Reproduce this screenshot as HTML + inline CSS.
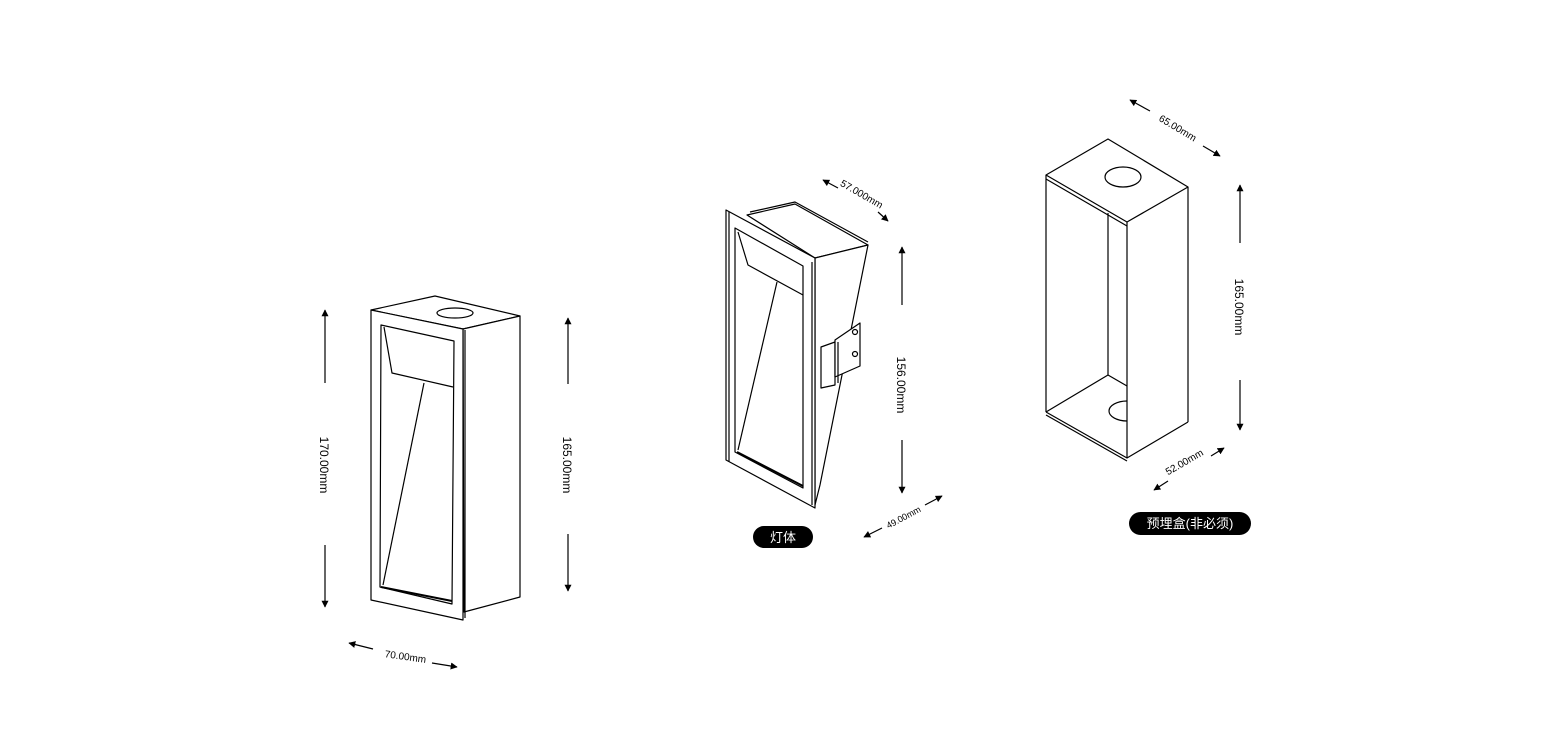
<!DOCTYPE html>
<html><head><meta charset="utf-8"><style>
html,body{margin:0;padding:0;background:#fff;}
svg{display:block;}
text{font-family:"Liberation Sans","Noto Sans CJK SC",sans-serif;fill:#000;}
</style></head><body>
<svg width="1560" height="753" viewBox="0 0 1560 753" xmlns="http://www.w3.org/2000/svg">
<defs>
<marker id="ah" viewBox="0 0 10 10" refX="9" refY="5" markerWidth="7" markerHeight="7" orient="auto-start-reverse" markerUnits="userSpaceOnUse"><path d="M0,0 L10,5 L0,10 z" fill="#000"/></marker>
</defs>
<g fill="none" stroke="#000" stroke-width="1.2" stroke-linejoin="round">
<!-- LEFT OBJECT -->
<polygon points="371,310 435,296 520,316 463,329" fill="#fff"/>
<polygon points="463,329 520,316 520,597 464,612" fill="#fff"/>
<polygon points="371,310 463,329 463,620 371,600" fill="#fff"/>
<line x1="465" y1="330" x2="465" y2="618"/>
<ellipse cx="455" cy="313" rx="18" ry="5"/>
<polygon points="381,325 454,341 452,604 380,587"/>
<line x1="381" y1="587" x2="452" y2="601" stroke-width="2"/>
<polyline points="384,327 392,373 453,387"/>
<line x1="424" y1="383" x2="383" y2="585"/>

<!-- MIDDLE OBJECT -->
<polygon points="747,215 795,204 868,245 815,258" fill="#fff"/>
<polyline points="750,212 795,202 868,242"/>
<polygon points="815,258 868,245 820,485 815,505" fill="#fff"/>
<polygon points="726,210 815,258 815,508 726,460" fill="#fff"/>
<line x1="729" y1="212" x2="729" y2="462"/>
<line x1="812" y1="262" x2="812" y2="505"/>
<polygon points="735,228 803,266 803,488 735,452"/>
<line x1="737" y1="452" x2="803" y2="486" stroke-width="2"/>
<polyline points="738,232 748,265 803,295"/>
<line x1="777" y1="282" x2="738" y2="450"/>
<polygon points="821,347 835,342 835,385 821,388" fill="#fff"/>
<polygon points="835,340 860,323 860,366 835,377" fill="#fff"/>
<line x1="838" y1="342" x2="838" y2="383"/>
<circle cx="855" cy="332" r="2.5"/>
<circle cx="855" cy="354" r="2.5"/>

<!-- RIGHT OBJECT -->
<polygon points="1046,175 1108,139 1188,187 1127,222" fill="#fff"/>
<line x1="1046" y1="179" x2="1127" y2="226"/>
<line x1="1046" y1="175" x2="1046" y2="412"/>
<line x1="1127" y1="222" x2="1127" y2="458"/>
<line x1="1188" y1="187" x2="1188" y2="422"/>
<polyline points="1046,412 1127,458 1188,422"/>
<line x1="1046" y1="415" x2="1127" y2="461"/>
<line x1="1108" y1="213" x2="1108" y2="375"/>
<polyline points="1046,412 1108,375 1127,386"/>
<ellipse cx="1123" cy="177" rx="18" ry="10"/>
<path d="M1127,401 A18,10 0 0 0 1127,421"/>

<!-- DIMENSION ARROWS -->
<line x1="325" y1="383" x2="325" y2="310" marker-end="url(#ah)"/>
<line x1="325" y1="545" x2="325" y2="607" marker-end="url(#ah)"/>
<line x1="568" y1="384" x2="568" y2="318" marker-end="url(#ah)"/>
<line x1="568" y1="534" x2="568" y2="591" marker-end="url(#ah)"/>
<line x1="373" y1="649" x2="349" y2="643" marker-end="url(#ah)"/>
<line x1="432" y1="663" x2="457" y2="667" marker-end="url(#ah)"/>

<line x1="838" y1="188" x2="823" y2="180" marker-end="url(#ah)"/>
<line x1="878" y1="212" x2="888" y2="221" marker-end="url(#ah)"/>
<line x1="902" y1="305" x2="902" y2="247" marker-end="url(#ah)"/>
<line x1="902" y1="440" x2="902" y2="493" marker-end="url(#ah)"/>
<line x1="882" y1="528" x2="864" y2="537" marker-end="url(#ah)"/>
<line x1="925" y1="505" x2="942" y2="496" marker-end="url(#ah)"/>

<line x1="1150" y1="111" x2="1130" y2="100" marker-end="url(#ah)"/>
<line x1="1203" y1="146" x2="1220" y2="156" marker-end="url(#ah)"/>
<line x1="1240" y1="243" x2="1240" y2="185" marker-end="url(#ah)"/>
<line x1="1240" y1="380" x2="1240" y2="430" marker-end="url(#ah)"/>
<line x1="1168" y1="481" x2="1154" y2="490" marker-end="url(#ah)"/>
<line x1="1211" y1="456" x2="1224" y2="448" marker-end="url(#ah)"/>
</g>

<g font-size="12">
<text transform="translate(320,465) rotate(90)" text-anchor="middle">170.00mm</text>
<text transform="translate(563,465) rotate(90)" text-anchor="middle">165.00mm</text>
<text transform="translate(405,660) rotate(8)" text-anchor="middle" font-size="10">70.00mm</text>
<text transform="translate(860,197) rotate(30)" text-anchor="middle" font-size="10">57.000mm</text>
<text transform="translate(897,385) rotate(90)" text-anchor="middle">156.00mm</text>
<text transform="translate(905,520) rotate(-28)" text-anchor="middle" font-size="9">49.00mm</text>
<text transform="translate(1176,131) rotate(31)" text-anchor="middle" font-size="10">65.00mm</text>
<text transform="translate(1235,307) rotate(90)" text-anchor="middle">165.00mm</text>
<text transform="translate(1186,465) rotate(-30)" text-anchor="middle" font-size="10">52.00mm</text>
</g>

<rect x="753" y="526" width="60" height="22" rx="11" fill="#000"/>
<text x="783" y="542" text-anchor="middle" font-size="13" style="fill:#fff">灯体</text>
<rect x="1129" y="512" width="122" height="23" rx="11.5" fill="#000"/>
<text x="1190" y="528" text-anchor="middle" font-size="13" style="fill:#fff">预埋盒(非必须)</text>
</svg>
</body></html>
